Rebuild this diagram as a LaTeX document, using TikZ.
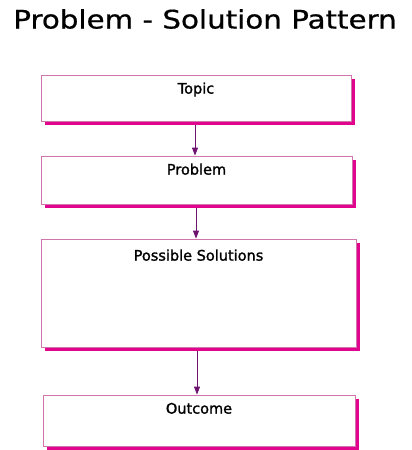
\documentclass[tikz,border=0pt]{standalone}
\usepackage{fontspec}
\setmainfont{DejaVu Sans}
\newfontfamily\titlefont[FakeBold=0.6]{DejaVu Sans}
\newfontfamily\labelfont[FakeBold=1.5]{DejaVu Sans}
\usetikzlibrary{shadows,arrows.meta}
\definecolor{boxline}{HTML}{D074AE}
\definecolor{shadowc}{HTML}{E0058C}
\definecolor{arrowc}{HTML}{6E1470}
\tikzset{
  pbox/.style={draw=boxline, line width=0.8pt, fill=white, rectangle, inner sep=0pt,
    drop shadow={shadow xshift=3.5pt, shadow yshift=-3.5pt, fill=shadowc, opacity=1}},
  plabel/.style={anchor=base, inner sep=0pt, font=\labelfont\fontsize{14.5}{16}\selectfont},
  conn/.style={draw=arrowc, line width=1pt, -{Triangle[length=8pt,width=6pt]}}
}
\begin{document}
\begin{tikzpicture}[x=1pt,y=-1pt]
\useasboundingbox (0,0) rectangle (412,450);
\node[anchor=base, inner sep=0pt] (title) at (205,28.5)
  {\scalebox{1.15}[1]{\titlefont\fontsize{25.5}{30}\selectfont Problem - Solution Pattern}};
\node[pbox, minimum width=310pt, minimum height=46pt] (topic) at (196,98) {};
\node[pbox, minimum width=311pt, minimum height=48pt] (problem) at (196.5,180) {};
\node[pbox, minimum width=315pt, minimum height=108pt] (ps) at (198.5,293) {};
\node[pbox, minimum width=312pt, minimum height=51pt] (outcome) at (199,420.5) {};
\node[plabel] (topicL) at ([yshift=-19pt]topic.north) {Topic};
\node[plabel] (problemL) at ([yshift=-19pt]problem.north) {Problem};
\node[plabel] (psL) at ([yshift=-22pt]ps.north) {Possible Solutions};
\node[plabel] (outcomeL) at ([yshift=-19pt]outcome.north) {Outcome};
\coordinate (a1) at ([xshift=-1pt,yshift=-3.5pt]topic.south);
\coordinate (a2) at ([xshift=-0.5pt,yshift=-3.5pt]problem.south);
\coordinate (a3) at ([xshift=-1.5pt,yshift=-3.5pt]ps.south);
\draw[conn] (a1) -- (a1 |- problem.north);
\draw[conn] (a2) -- (a2 |- ps.north);
\draw[conn] (a3) -- (a3 |- outcome.north);
\end{tikzpicture}
\end{document}
